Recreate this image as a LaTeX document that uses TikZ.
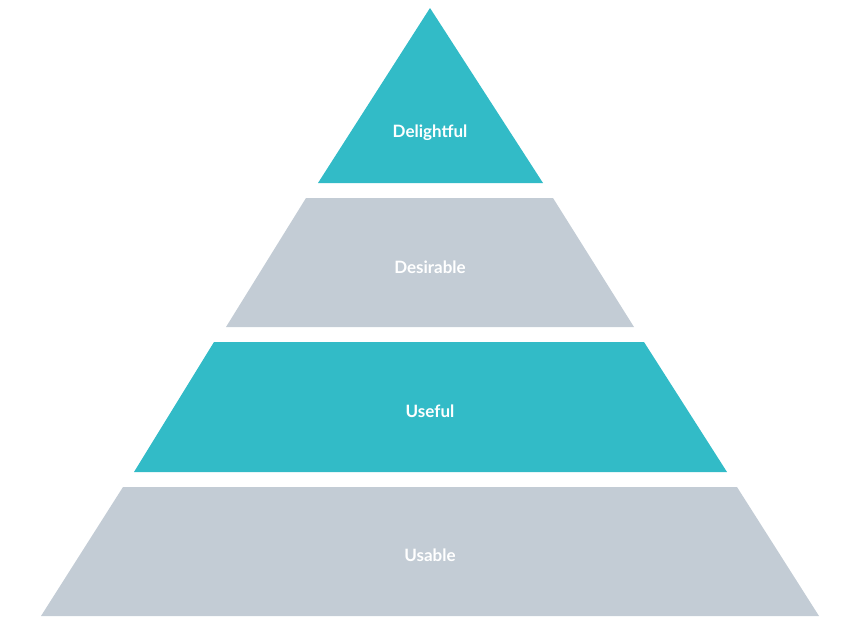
\documentclass[tikz,border=0pt]{standalone}
\usepackage{fontspec}
\setmainfont{Lato}
\definecolor{teal}{HTML}{32BBC7}
\definecolor{slate}{HTML}{C3CCD5}
\tikzset{label/.style={text=white, font=\fontsize{17}{20}\selectfont\bfseries}}
\begin{document}
\begin{tikzpicture}[x=1pt, y=-1pt]
	\useasboundingbox (0,0) rectangle (860,624);
	\fill[teal] (430,8)--(543,183)--(318,183)--cycle;
	\fill[slate] (306,198)--(553,198)--(634,327)--(226,327)--cycle;
	\fill[teal] (214,342)--(644,342)--(727,472)--(134,472)--cycle;
	\fill[slate] (123,487)--(737,487)--(819,616)--(41,616)--cycle;
	\node[label] at (430,133)(top){Delightful};
	\node[label] at (430,267)(want){Desirable};
	\node[label] at (430,411)(use){Useful};
	\node[label] at (430,555)(base){Usable};
\end{tikzpicture}
\end{document}
